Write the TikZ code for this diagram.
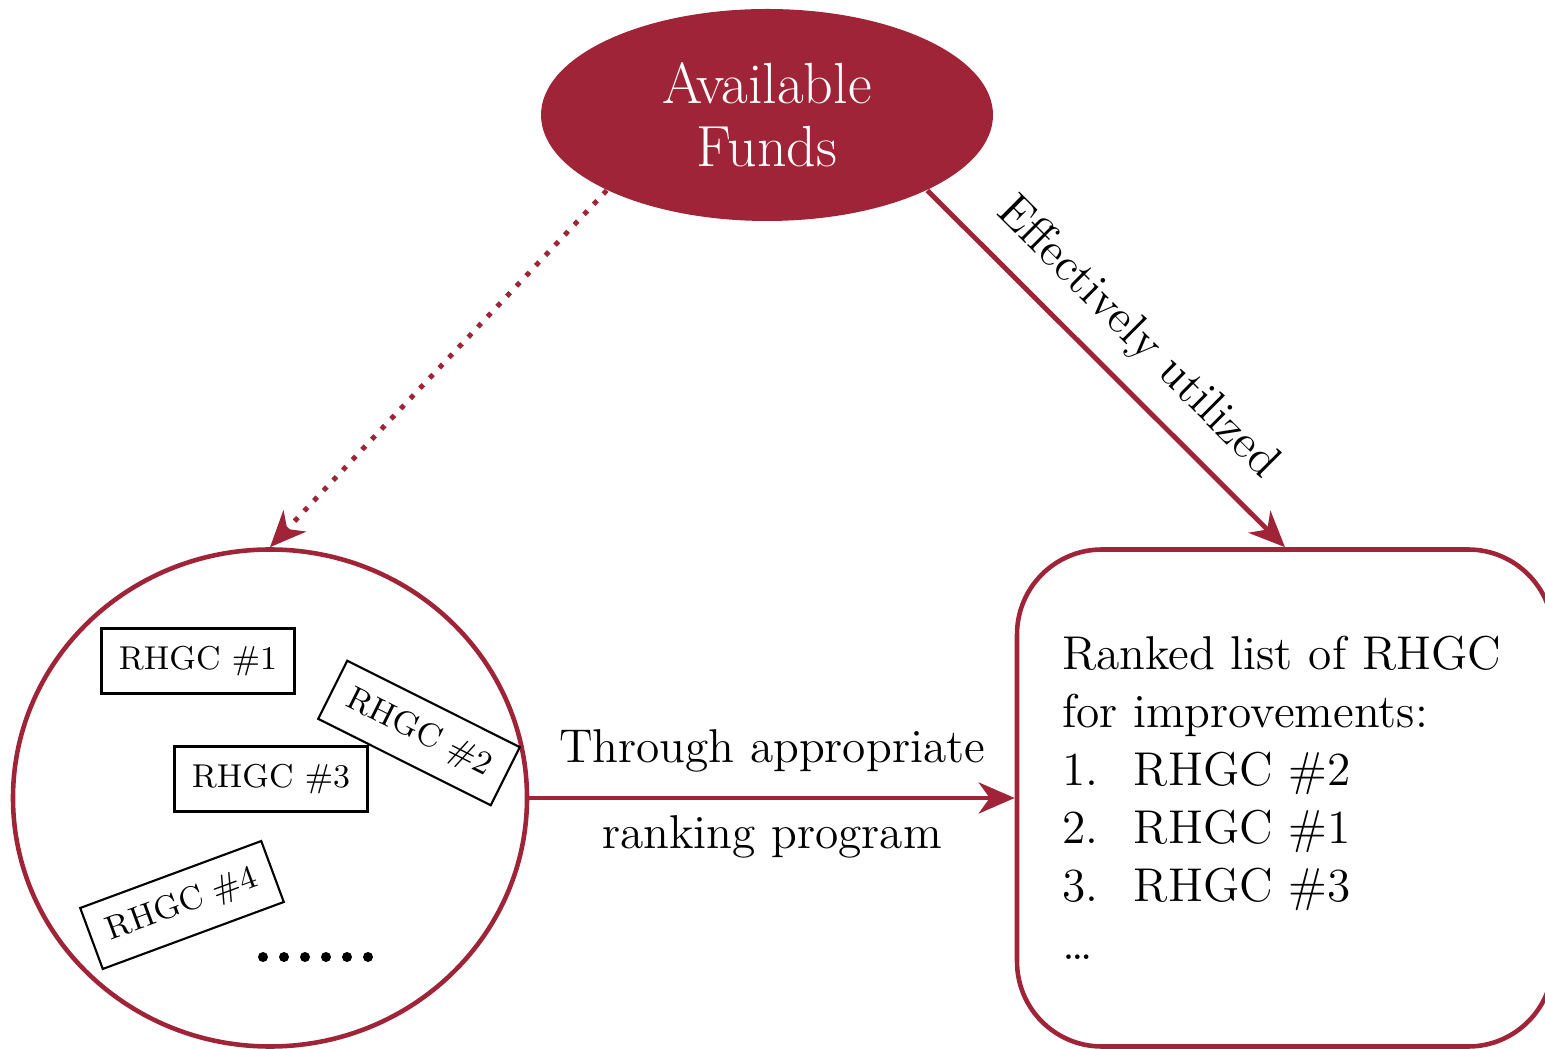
\documentclass[tikz,border=0pt]{standalone}
\usetikzlibrary{arrows.meta,shapes.geometric}

\definecolor{wine}{RGB}{160,36,56}

\tikzset{
	link/.style={draw=wine, line width=1.4pt, -{Stealth[length=3.6mm,width=3.1mm,inset=1.1mm]}},
	rhgc/.style={draw, line width=0.6pt, minimum width=1.93cm, minimum height=0.65cm, inner sep=0pt, font=\fontsize{9.4}{11}\selectfont},
	big/.style={font=\fontsize{13.5}{16.5}\selectfont}
}

\begin{document}
\begin{tikzpicture}
	\useasboundingbox (0,0) rectangle (15.45,10.48);

	% the three main shapes
	\node (funds) [ellipse, fill=wine, minimum width=4.52cm, minimum height=2.12cm, text=white, align=center, font=\fontsize{16.5}{18}\selectfont] at (7.67,9.33) {Available\\Funds};
	\node (pool) [ellipse, draw=wine, line width=1.3pt, minimum width=5.14cm, minimum height=4.97cm] at (2.70,2.50) {};
	\node (ranked) [draw=wine, line width=1.3pt, rounded corners=0.85cm, minimum width=5.36cm, minimum height=4.97cm, text width=4.46cm, inner sep=0.45cm, align=left, big] at (12.85,2.50)
		{Ranked list of RHGC\\for improvements:\\
		\makebox[0.72cm][l]{1.}RHGC \#2\\
		\makebox[0.72cm][l]{2.}RHGC \#1\\
		\makebox[0.72cm][l]{3.}RHGC \#3\\
		\ldots};

	% the boxes in the pool
	\node (r1) [rhgc] at (1.98,3.87) {RHGC \#1};
	\node (r2) [rhgc, rotate=-26.6] at (4.19,3.15) {RHGC \#2};
	\node (r3) [rhgc] at (2.71,2.69) {RHGC \#3};
	\node (r4) [rhgc, rotate=20.3] at (1.82,1.43) {RHGC \#4};
	\foreach \x in {2.63,2.84,...,3.70}
		\fill (\x,0.91) circle (0.05) ;

	% connectors
	\draw [link, dash pattern=on 1.4pt off 2.6pt] (funds.south west) -- (pool.north) ;
	\draw [link] (funds.south east) -- node[sloped, above=0.08cm, big] {Effectively utilized} (ranked.north) ;
	\draw [link] (pool.east) -- node[above=0.12cm, big] {Through appropriate} node[below=0.03cm, big] {ranking program} (ranked.west) ;
\end{tikzpicture}
\end{document}
